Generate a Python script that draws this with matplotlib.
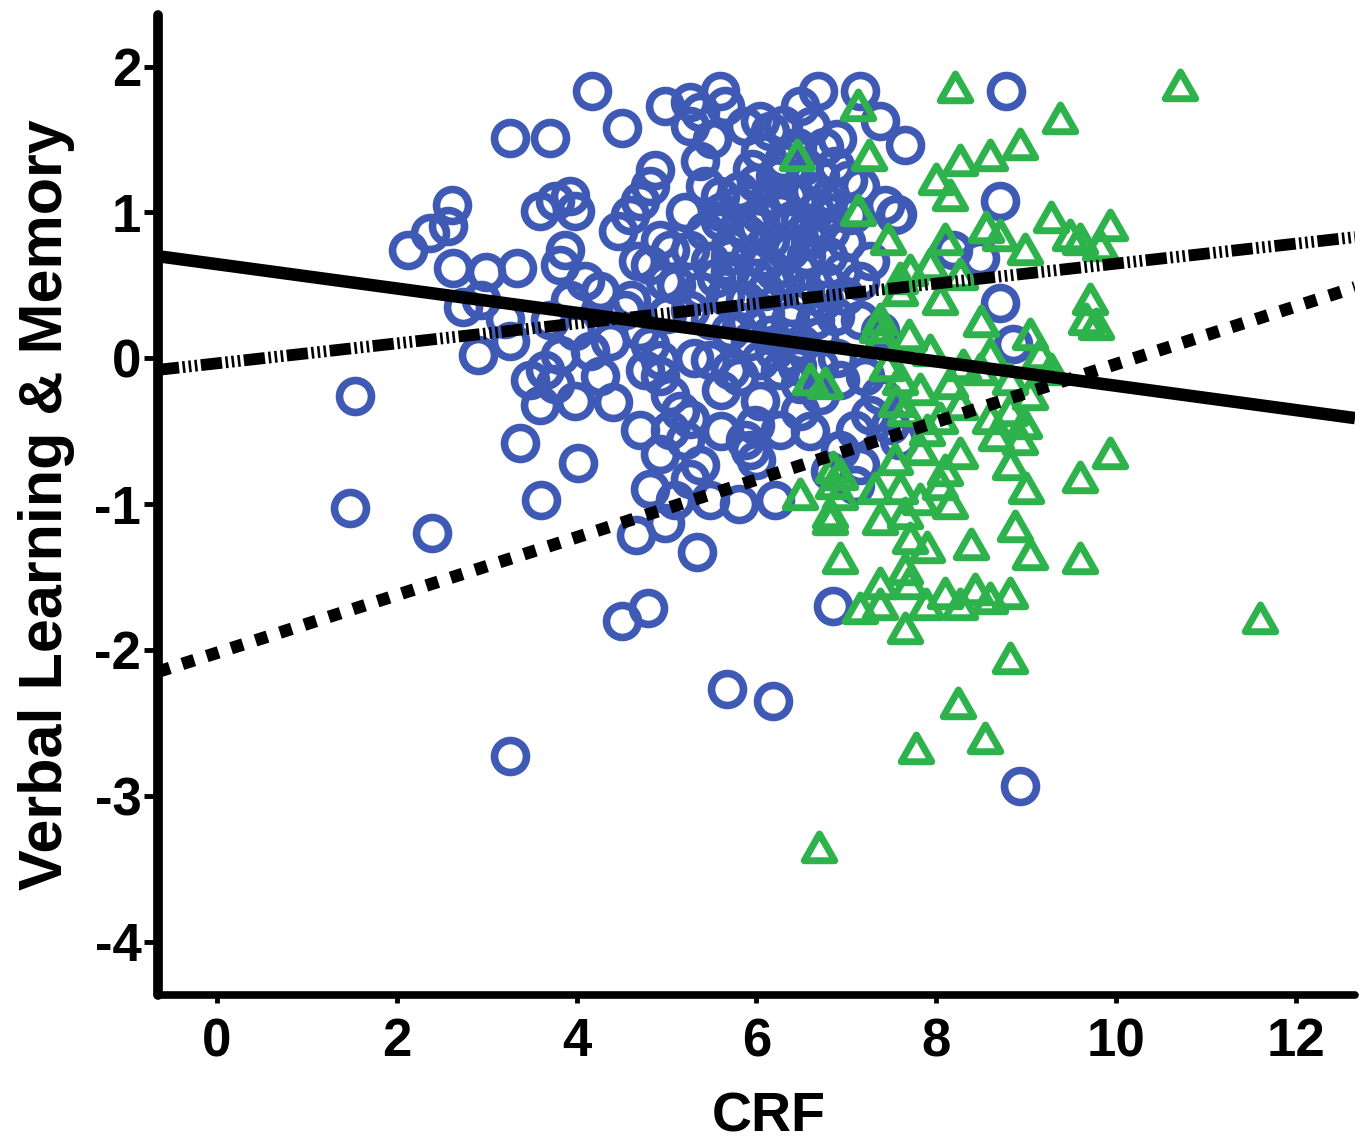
import numpy as np
import matplotlib
matplotlib.use("Agg")
import matplotlib.pyplot as plt
from matplotlib.markers import MarkerStyle
from matplotlib.path import Path

plt.rcParams['font.family'] = ['Liberation Sans', 'DejaVu Sans']
plt.rcParams['font.weight'] = 'bold'

# group 1 (blue circles)
crf_blue = [4.17, 3.26, 3.70, 4.50, 8.78, 2.61, 2.12, 2.37, 2.57, 2.63,
            2.99, 3.34, 2.94, 3.20, 2.90, 3.26, 1.53, 1.48, 2.39, 3.37,
            3.60, 4.02, 3.26, 5.67, 6.18, 8.93, 4.50, 4.79, 6.85, 5.34,
            4.66, 4.98, 8.71, 8.71, 8.85, 3.59, 3.76, 3.93, 3.98, 3.87,
            3.82, 4.09, 4.26, 3.93, 3.70, 3.98, 3.82, 4.15, 3.65, 3.76,
            3.98, 3.59, 4.26, 4.37, 4.54, 3.48, 4.46, 4.59, 4.71, 4.82,
            4.87, 4.68, 4.82, 4.93, 5.04, 4.98, 4.71, 4.82, 4.93, 4.76,
            4.93, 5.04, 5.15, 5.26, 5.04, 5.20, 5.37, 4.93, 4.71, 5.26,
            4.82, 5.09, 5.48, 5.81, 6.21, 5.87, 5.98, 5.93, 5.60, 5.71,
            4.98, 5.26, 5.26, 5.59, 5.65, 5.37, 5.87, 6.04, 6.15, 6.48,
            6.68, 6.61, 7.15, 7.37, 7.65, 5.37, 5.43, 5.59, 5.81, 6.04,
            6.21, 6.37, 6.53, 6.71, 6.87, 7.02, 6.82, 6.65, 6.48, 6.26,
            6.04, 5.81, 5.59, 5.43, 5.26, 5.48, 5.71, 5.93, 6.15, 6.37,
            6.59, 6.82, 7.04, 7.15, 7.43, 7.54, 7.26, 7.15, 6.98, 6.76,
            6.54, 6.32, 6.10, 5.87, 5.65, 5.37, 5.26, 5.48, 5.71, 5.93,
            6.15, 6.37, 6.65, 6.87, 7.15, 7.37, 6.04, 6.26, 6.48, 6.71,
            6.93, 7.21, 7.37, 7.26, 7.09, 7.48, 7.59, 7.15, 6.93, 6.82,
            7.09, 6.04, 6.26, 6.48, 5.48, 5.81, 6.37, 7.07, 7.56, 8.18,
            8.48, 6.00, 6.30, 6.60, 5.90, 6.20, 6.50, 6.80, 6.10, 6.50,
            5.70, 5.50, 6.90, 6.30, 5.20, 5.00, 5.30, 5.60, 6.00, 6.60,
            6.90, 4.60, 4.40, 5.10, 7.00, 6.70, 2.74, 5.60, 5.80, 6.00,
            6.20, 6.40, 6.60, 6.80, 5.70, 6.00, 6.30, 6.55, 6.75, 6.40,
            6.10, 5.90, 6.20, 6.45, 6.70, 5.55, 6.95, 6.25, 6.45, 6.75,
            5.95]
vlm_blue = [1.83, 1.51, 1.51, 1.58, 1.83, 1.05, 0.74, 0.86, 0.91, 0.62,
            0.59, 0.62, 0.40, 0.27, 0.02, 0.12, -0.26, -1.03, -1.20, -0.58,
            -0.97, -0.72, -2.73, -2.27, -2.35, -2.93, -1.80, -1.71, -1.70, -1.33,
            -1.21, -1.13, 1.08, 0.38, 0.10, 1.01, 1.08, 1.11, 1.01, 0.74,
            0.64, 0.53, 0.46, 0.40, 0.26, 0.19, 0.02, 0.05, -0.08, -0.18,
            -0.29, -0.32, -0.12, 0.12, 0.33, -0.15, 0.87, 0.98, 1.08, 1.18,
            1.29, 0.67, 0.64, 0.81, 0.74, 0.53, 0.19, 0.09, -0.01, -0.08,
            -0.12, -0.25, -0.36, -0.42, -0.49, -0.56, -0.73, -0.66, -0.49, -0.83,
            -0.90, -0.97, -0.97, -1.00, -0.97, -0.56, -0.46, -0.63, -0.22, -0.08,
            1.73, 1.76, 1.59, 1.83, 1.73, 1.69, 1.59, 1.63, 1.56, 1.73,
            1.83, 1.59, 1.83, 1.63, 1.46, 1.35, 1.18, 1.11, 1.15, 1.42,
            1.25, 1.11, 1.32, 1.25, 1.32, 1.22, 1.11, 1.01, 0.94, 1.01,
            0.98, 0.91, 0.94, 0.87, 0.74, 0.67, 0.77, 0.70, 0.81, 0.74,
            0.81, 0.87, 0.98, 1.18, 1.05, 0.98, 0.67, 0.53, 0.43, 0.53,
            0.46, 0.53, 0.46, 0.40, 0.43, 0.46, 0.33, 0.26, 0.19, 0.12,
            0.16, 0.26, 0.26, 0.29, 0.26, 0.19, -0.01, -0.08, -0.18, -0.25,
            -0.15, -0.12, -0.25, -0.39, -0.49, -0.46, -0.56, -0.73, -0.63, -0.77,
            -0.87, -0.29, -0.49, -0.36, -0.01, -0.12, 0.02, 0.99, 0.99, 0.74,
            0.69, 1.20, 1.35, 1.15, 0.85, 0.60, 0.60, 0.70, 0.30, 0.10,
            0.60, 1.50, 1.50, 1.60, 1.00, 0.30, 0.00, -0.50, -0.70, -0.50,
            0.00, 0.40, -0.30, 0.50, 0.80, -0.05, 0.35, 1.00, 1.05, 0.90,
            1.10, 0.95, 0.90, 1.00, 0.70, 0.55, 0.75, 0.70, 0.40, 0.35,
            0.65, 0.25, 0.05, -0.05, 0.15, 0.55, 0.60, 1.25, 1.45, 1.45,
            1.30]

# group 2 (green triangles)
crf_green = [10.71, 8.21, 7.13, 9.38, 6.45, 7.25, 8.26, 8.60, 8.93, 8.00,
             8.15, 7.13, 9.27, 9.49, 9.93, 9.82, 9.60, 7.46, 8.10, 8.55,
             8.71, 8.99, 7.71, 7.93, 8.26, 7.60, 8.04, 7.37, 9.71, 9.66,
             9.77, 9.04, 7.37, 7.93, 8.60, 9.15, 9.27, 6.60, 6.76, 7.60,
             7.82, 8.15, 8.49, 8.82, 9.04, 7.65, 8.04, 8.26, 8.60, 8.82,
             8.66, 8.93, 9.93, 7.54, 7.82, 8.10, 8.26, 8.82, 9.60, 6.93,
             6.48, 6.93, 7.32, 7.60, 7.82, 8.04, 9.00, 6.82, 7.37, 7.65,
             7.71, 8.38, 8.88, 9.04, 9.60, 6.93, 7.37, 7.65, 7.15, 7.37,
             7.65, 7.88, 8.10, 8.26, 8.43, 8.60, 8.82, 11.60, 8.82, 8.24,
             8.54, 7.77, 6.69, 7.60, 7.34, 6.85, 6.85, 6.82, 8.98, 7.45,
             7.70, 7.90, 8.30, 8.50, 7.55, 8.15, 7.90, 7.70]
vlm_green = [1.87, 1.85, 1.73, 1.64, 1.39, 1.39, 1.35, 1.39, 1.46, 1.22,
             1.11, 1.01, 0.96, 0.84, 0.91, 0.77, 0.81, 0.81, 0.81, 0.89,
             0.84, 0.74, 0.60, 0.64, 0.57, 0.46, 0.40, 0.26, 0.40, 0.26,
             0.23, 0.16, 0.12, 0.05, 0.02, 0.02, -0.08, -0.15, -0.18, -0.15,
             -0.22, -0.18, -0.08, -0.15, -0.25, -0.36, -0.42, -0.32, -0.42, -0.36,
             -0.53, -0.56, -0.66, -0.70, -0.63, -0.77, -0.66, -0.73, -0.82, -0.80,
             -0.94, -0.94, -0.90, -0.90, -0.97, -0.87, -0.90, -1.07, -1.11, -1.07,
             -1.24, -1.28, -1.16, -1.35, -1.38, -1.38, -1.55, -1.45, -1.72, -1.69,
             -1.86, -1.69, -1.62, -1.69, -1.59, -1.65, -1.62, -1.79, -2.06, -2.37,
             -2.61, -2.68, -3.36, 0.54, 0.21, -0.75, -0.86, -1.11, -0.45, -0.05,
             0.15, -0.50, -0.05, 0.25, -0.30, -1.00, -1.30, -1.55]

# regression lines: (intercept, slope)
fit_solid = (0.645, -0.0834)
fit_dashdot = (-0.035, 0.0684)
fit_dotted = (-2.02, 0.198)

xticks = [0, 2, 4, 6, 8, 10, 12]
yticks = [-4, -3, -2, -1, 0, 1, 2]
ytick_labels = ['-4', '-3', '-2', '-1', '0', '1', '2']
xlim = (-0.656, 12.656)
ylim = (-4.366, 2.354)

blue = '#3F5AB4'
green = '#2EB24B'

fig = plt.figure(figsize=(13.65, 11.48), dpi=100)
ax = fig.add_axes([0.1157, 0.1333, 0.8770, 0.8537])

tri = MarkerStyle(Path([(-1, -0.8), (1, -0.8), (0, 0.95), (-1, -0.8)],
                       [Path.MOVETO, Path.LINETO, Path.LINETO, Path.CLOSEPOLY]),
                  joinstyle='miter')

ax.plot(crf_blue, vlm_blue, 'o', ms=23, mfc='none', mec=blue, mew=5.5, zorder=2)
ax.plot(crf_green, vlm_green, ls='none', marker=tri, ms=22, mfc='none',
        mec=green, mew=5, zorder=3)

xx = np.array(xlim)
b, m = fit_solid
ax.plot(xx, b + m * xx, color='black', lw=9, solid_capstyle='butt', zorder=4)
b, m = fit_dashdot
ln, = ax.plot(xx, b + m * xx, color='black', lw=8.5, dash_capstyle='butt', zorder=4)
ln.set_dashes((1.8, 0.3, 0.22, 0.3, 0.22, 0.3, 0.22, 0.3))
b, m = fit_dotted
ln, = ax.plot(xx, b + m * xx, color='black', lw=9, dash_capstyle='butt', zorder=4)
ln.set_dashes((1, 1.05))

ax.set_xlim(*xlim)
ax.set_ylim(*ylim)
ax.set_xticks(xticks)
ax.set_xticklabels([str(t) for t in xticks])
ax.set_yticks(yticks)
ax.set_yticklabels(ytick_labels)

for s in ['top', 'right']:
    ax.spines[s].set_visible(False)
ax.spines['left'].set_linewidth(7)
ax.spines['bottom'].set_linewidth(5.5)
ax.spines['left'].set_capstyle('round')
ax.spines['bottom'].set_capstyle('round')

ax.tick_params(axis='y', length=10, width=3.5, pad=2, labelsize=38)
ax.tick_params(axis='x', length=6, width=3.5, pad=10, labelsize=38)
for lab in ax.get_xticklabels() + ax.get_yticklabels():
    lab.set_fontweight('bold')

ax.set_xlabel('CRF', fontsize=40, fontweight='bold', va='top')
ax.set_ylabel('Verbal Learning & Memory', fontsize=44, fontweight='bold')
ax.xaxis.set_label_coords(0.51, -0.098)
ax.yaxis.set_label_coords(-0.069, 0.5)

fig.savefig('out.png', dpi=100)
